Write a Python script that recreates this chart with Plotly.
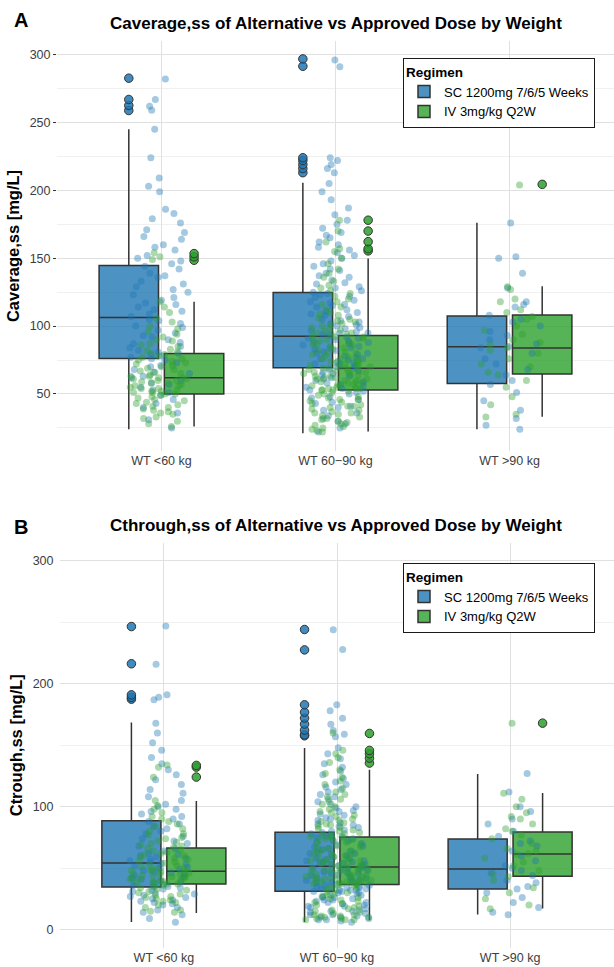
import plotly.graph_objects as go

categories = ["WT <60 kg", "WT 60\u221290 kg", "WT >90 kg"]
regimens = ["SC 1200mg 7/6/5 Weeks", "IV 3mg/kg Q2W"]

# ---------- Panel A: Caverage,ss  (box statistics) ----------
cavg_sc_q1 = [76.2, 69.4, 57.8]
cavg_sc_med = [106.4, 92.6, 84.8]
cavg_sc_q3 = [144.6, 124.8, 107.4]
cavg_sc_lo = [24, 21, 24]
cavg_sc_hi = [245, 205.6, 176.2]
cavg_sc_out = [[282.6, 266.9, 262.5, 258.8], [296.8, 291.4, 224, 222, 219, 216, 213], []]

cavg_iv_q1 = [50, 52.9, 64.7]
cavg_iv_med = [62, 68.9, 83.8]
cavg_iv_q3 = [79.9, 93.1, 108.1]
cavg_iv_lo = [26, 22.3, 33.3]
cavg_iv_hi = [117.9, 149.8, 129.4]
cavg_iv_out = [[153.4, 151, 148.5], [178, 170, 162.2, 157, 155.4], [204.4]]

cavg_sc_lt60 = [282, 267, 262, 259, 245, 224, 209, 203, 199, 186, 183, 179, 176, 171, 169, 166, 164, 160, 158, 156,
                152, 150, 148, 146, 144, 142, 139, 137, 136, 133, 131, 129, 127, 125, 123, 121, 119, 117, 116, 114,
                112, 111, 109, 107, 105, 104, 102, 100, 99, 97, 95, 93, 92, 90, 88, 87, 85, 84, 82, 81, 80, 79, 78,
                77, 76, 75, 73, 71, 70, 68, 66, 65, 63, 62, 60, 58, 57, 55, 53, 51, 49, 46, 43, 40, 36, 31, 25]
cavg_sc_60_90 = [296, 291, 224, 222, 219, 216, 213, 205, 199, 193, 187, 182, 178, 175, 172, 169, 167, 165, 162, 160,
                 158, 156, 154, 152, 150, 148, 146, 144, 142, 141, 139, 137, 136, 134, 132, 131, 129, 128, 126, 125,
                 124, 123, 122, 121, 119, 118, 117, 116, 115, 114, 112, 111, 110, 109, 108, 107, 105, 104, 103, 102,
                 101, 100, 99, 98, 97, 96, 95, 95, 94, 93, 92, 91, 91, 90, 89, 88, 88, 87, 86, 85, 84, 84, 83, 82,
                 81, 80, 80, 79, 78, 77, 76, 76, 75, 74, 73, 72, 72, 71, 70, 69, 68, 67, 66, 65, 64, 63, 62, 61, 60,
                 59, 58, 57, 56, 55, 54, 53, 52, 51, 50, 48, 47, 46, 44, 43, 41, 40, 38, 36, 34, 32, 30, 28, 25, 22]
cavg_sc_gt90 = [176, 151, 150, 139, 128, 118, 116, 114, 108, 105, 103, 100, 96, 93, 90, 87, 85, 84, 80, 76, 72, 68,
                64, 60, 57, 51, 45, 38, 32, 27, 24]
cavg_iv_lt60 = [154, 151, 149, 118, 114, 110, 106, 103, 100, 98, 96, 94, 92, 90, 89, 87, 86, 85, 83, 82, 81, 80, 79,
                78, 77, 76, 75, 74, 73, 72, 71, 70, 69, 68, 67, 66, 65, 64, 63, 63, 62, 62, 61, 61, 60, 60, 59, 58,
                58, 57, 56, 56, 55, 54, 54, 53, 52, 52, 51, 51, 50, 50, 49, 48, 47, 46, 45, 44, 43, 42, 41, 40, 39,
                38, 37, 36, 35, 33, 32, 30, 28, 26]
cavg_iv_60_90 = [178, 170, 162, 157, 155, 150, 146, 142, 139, 136, 133, 130, 128, 126, 124, 122, 120, 118, 116, 114,
                 112, 110, 109, 108, 106, 105, 104, 103, 102, 101, 100, 99, 98, 97, 96, 95, 95, 94, 94, 93, 92, 92,
                 91, 90, 90, 89, 88, 87, 86, 86, 85, 84, 83, 82, 81, 80, 80, 79, 78, 77, 76, 76, 75, 74, 74, 73, 72,
                 72, 71, 71, 70, 70, 69, 69, 69, 68, 68, 67, 67, 66, 66, 65, 65, 64, 64, 63, 63, 62, 62, 61, 61, 60,
                 60, 59, 59, 58, 58, 57, 57, 56, 56, 55, 55, 54, 54, 54, 53, 53, 53, 52, 51, 50, 49, 48, 47, 46, 46,
                 45, 44, 43, 42, 41, 41, 40, 39, 38, 37, 36, 36, 35, 34, 33, 32, 31, 30, 29, 28, 27, 26, 25, 24, 23, 22]
cavg_iv_gt90 = [204, 129, 127, 120, 118, 112, 110, 107, 105, 100, 97, 94, 90, 88, 86, 84, 82, 80, 76, 72, 70, 66, 64,
                60, 55, 48, 42, 35, 33]

# ---------- Panel B: Ctrough,ss ----------
ctr_sc_q1 = [34.7, 31.2, 33.1]
ctr_sc_med = [54.2, 51.5, 49.3]
ctr_sc_q3 = [88.6, 79.1, 73.7]
ctr_sc_lo = [6.2, 6.2, 12.2]
ctr_sc_hi = [168.5, 147.7, 126.6]
ctr_sc_out = [[246.6, 216.3, 191, 189, 187.5], [244.2, 227.6, 182.9, 176.9, 172.1, 167.2, 162.3, 158.5, 157.7], []]

ctr_iv_q1 = [37.1, 36.6, 43.4]
ctr_iv_med = [47.4, 50.9, 61.5]
ctr_iv_q3 = [66.4, 75.3, 79.4]
ctr_iv_lo = [13.5, 7.6, 17.1]
ctr_iv_hi = [104.6, 130, 111.1]
ctr_iv_out = [[133.6, 132.2, 124.1], [159.6, 145.8, 143, 139.5, 135.5], [168]]

ctr_sc_lt60 = [247, 216, 191, 189, 187, 168, 160, 152, 146, 140, 135, 130, 126, 122, 118, 114, 111, 108, 105, 102,
               100, 98, 96, 94, 92, 90, 88, 86, 84, 82, 80, 78, 76, 74, 72, 70, 68, 66, 64, 62, 61, 60, 59, 58, 57,
               56, 55, 54, 53, 52, 51, 50, 49, 48, 47, 46, 45, 44, 43, 42, 41, 40, 39, 38, 37, 36, 35, 35, 34, 33,
               32, 31, 30, 29, 28, 27, 26, 25, 24, 23, 22, 21, 20, 18, 16, 14, 12, 9, 6]
ctr_sc_60_90 = [244, 228, 183, 178, 172, 167, 162, 159, 157, 148, 143, 139, 135, 132, 129, 126, 123, 120, 118, 116,
                114, 112, 110, 108, 106, 104, 102, 100, 99, 97, 96, 94, 93, 91, 90, 89, 87, 86, 85, 84, 83, 81, 80,
                79, 78, 77, 76, 76, 75, 74, 73, 72, 71, 70, 69, 68, 67, 66, 65, 64, 63, 62, 62, 61, 60, 59, 58, 58,
                57, 56, 56, 55, 55, 54, 54, 53, 53, 52, 52, 51, 50, 50, 49, 48, 48, 47, 46, 46, 45, 44, 44, 43, 42,
                42, 41, 40, 40, 39, 38, 38, 37, 36, 36, 35, 35, 34, 34, 33, 33, 32, 32, 32, 31, 31, 30, 30, 29, 28,
                28, 27, 26, 26, 25, 24, 24, 23, 22, 22, 21, 20, 19, 19, 18, 17, 16, 15, 15, 14, 13, 12, 12, 11, 10,
                10, 9, 8, 8, 7, 6]
ctr_sc_gt90 = [127, 112, 100, 96, 90, 86, 80, 76, 72, 70, 68, 64, 60, 56, 52, 50, 48, 46, 44, 40, 38, 35, 33, 30, 26,
               22, 18, 14, 12]
ctr_iv_lt60 = [134, 132, 124, 105, 101, 98, 95, 92, 90, 88, 86, 84, 82, 80, 78, 77, 75, 74, 72, 71, 70, 69, 68, 67,
               66, 65, 64, 63, 62, 61, 60, 59, 58, 57, 56, 55, 54, 53, 52, 51, 50, 50, 49, 48, 48, 47, 47, 46, 46,
               45, 45, 44, 44, 43, 43, 42, 42, 41, 41, 40, 40, 39, 39, 38, 38, 37, 37, 36, 35, 34, 33, 32, 31, 30,
               29, 28, 27, 26, 25, 24, 23, 22, 20, 18, 16, 15, 14]
ctr_iv_60_90 = [160, 146, 143, 140, 136, 130, 127, 124, 121, 118, 115, 112, 110, 108, 106, 104, 102, 100, 98, 96, 95,
                93, 92, 90, 89, 88, 87, 86, 85, 84, 83, 82, 81, 80, 79, 78, 77, 77, 76, 76, 75, 74, 73, 73, 72, 71,
                70, 69, 68, 67, 66, 66, 65, 64, 63, 62, 62, 61, 60, 59, 58, 58, 57, 56, 56, 55, 55, 54, 54, 53, 53,
                52, 52, 51, 51, 50, 50, 49, 49, 48, 48, 47, 47, 46, 46, 45, 45, 44, 44, 43, 43, 42, 42, 42, 41, 41,
                40, 40, 40, 39, 39, 39, 38, 38, 38, 37, 37, 37, 37, 36, 36, 35, 34, 33, 32, 31, 30, 29, 28, 27, 26,
                25, 24, 23, 22, 21, 20, 19, 18, 17, 16, 15, 14, 13, 12, 12, 11, 11, 10, 10, 9, 9, 8, 8, 8]
ctr_iv_gt90 = [168, 111, 106, 100, 95, 92, 90, 86, 82, 80, 77, 74, 70, 66, 64, 62, 61, 58, 55, 52, 48, 45, 43, 40, 34,
               30, 25, 20, 17]

# ---------- styling ----------
FONT = "Liberation Sans, Arial, sans-serif"
fill_cols = ["rgba(31,119,180,0.8)", "rgba(44,160,44,0.8)"]
pt_cols = ["rgba(31,119,180,0.4)", "rgba(44,160,44,0.4)"]
out_cols = ["rgba(31,119,180,0.85)", "rgba(44,160,44,0.85)"]
EDGE = "#333333"


def flat(groups):
    xs, ys = [], []
    for cat, vals in zip(categories, groups):
        xs += [cat] * len(vals)
        ys += vals
    return xs, ys


fig = go.Figure()

panels = [
    dict(xa="x", ya="y", legend="legend", ag="A",
         stats=[(cavg_sc_q1, cavg_sc_med, cavg_sc_q3, cavg_sc_lo, cavg_sc_hi, cavg_sc_out),
                (cavg_iv_q1, cavg_iv_med, cavg_iv_q3, cavg_iv_lo, cavg_iv_hi, cavg_iv_out)],
         pts=[[cavg_sc_lt60, cavg_sc_60_90, cavg_sc_gt90], [cavg_iv_lt60, cavg_iv_60_90, cavg_iv_gt90]]),
    dict(xa="x2", ya="y2", legend="legend2", ag="B",
         stats=[(ctr_sc_q1, ctr_sc_med, ctr_sc_q3, ctr_sc_lo, ctr_sc_hi, ctr_sc_out),
                (ctr_iv_q1, ctr_iv_med, ctr_iv_q3, ctr_iv_lo, ctr_iv_hi, ctr_iv_out)],
         pts=[[ctr_sc_lt60, ctr_sc_60_90, ctr_sc_gt90], [ctr_iv_lt60, ctr_iv_60_90, ctr_iv_gt90]]),
]

for p in panels:
    for k, (q1, med, q3, lo, hi, out) in enumerate(p["stats"]):
        fig.add_trace(go.Box(
            x=categories, q1=q1, median=med, q3=q3, lowerfence=lo, upperfence=hi, y=out,
            name=regimens[k], legend=p["legend"], xaxis=p["xa"], yaxis=p["ya"],
            alignmentgroup=p["ag"], offsetgroup=str(k),
            fillcolor=fill_cols[k], line=dict(color=EDGE, width=1.5), whiskerwidth=0,
            boxpoints="outliers", jitter=0, pointpos=0,
            marker=dict(color=out_cols[k], size=8.5, line=dict(color=EDGE, width=1)),
            hoverinfo="skip",
        ))
    for k, groups in enumerate(p["pts"]):
        xs, ys = flat(groups)
        fig.add_trace(go.Box(
            x=xs, y=ys, width=0.42, boxpoints="all", jitter=1, pointpos=0,
            fillcolor="rgba(0,0,0,0)", line=dict(color="rgba(0,0,0,0)", width=0),
            marker=dict(color=pt_cols[k], size=7, line=dict(width=0)),
            showlegend=False, xaxis=p["xa"], yaxis=p["ya"], hoverinfo="skip",
        ))

TOP, BOT, H = 41, 19, 967
plot_h = H - TOP - BOT


def py(pix):
    return (H - BOT - pix) / plot_h


axis_common = dict(showline=False, zeroline=False, showgrid=True, gridcolor="#e0e0e0", gridwidth=1,
                   tickfont=dict(family=FONT, size=12.5, color="#3d3d3d"))

fig.update_layout(
    width=614, height=967,
    margin=dict(l=57, r=0, t=TOP, b=BOT),
    paper_bgcolor="white", plot_bgcolor="white",
    boxmode="group", boxgap=0.25, boxgroupgap=0.09,
    font=dict(family=FONT, color="black"),
    xaxis=dict(domain=[0, 1], anchor="y", type="category", categoryorder="array", categoryarray=categories,
               range=[-0.6, 2.6], ticks="", **axis_common),
    yaxis=dict(domain=[py(451), 1], anchor="x", range=[8, 310], dtick=50, tick0=0,
               ticks="outside", ticklen=3, tickcolor="#333333", tickwidth=1,
               minor=dict(dtick=25, tick0=0, showgrid=True, gridcolor="#f0f0f0", gridwidth=1),
               title=dict(text="<b>Caverage,ss [mg/L]</b>", font=dict(family=FONT, size=16.5, color="black"),
                          standoff=5),
               **axis_common),
    xaxis2=dict(domain=[3 / 557, 1], anchor="y2", type="category", categoryorder="array", categoryarray=categories,
                range=[-0.6, 2.6], ticks="", **axis_common),
    yaxis2=dict(domain=[0, py(542.5)], anchor="x2", range=[-15, 315], dtick=100, tick0=0,
                ticks="outside", ticklen=3, tickcolor="rgba(0,0,0,0)",
                minor=dict(dtick=50, tick0=0, showgrid=True, gridcolor="#f0f0f0", gridwidth=1),
                title=dict(text="<b>Ctrough,ss [mg/L]</b>", font=dict(family=FONT, size=16.5, color="black"),
                           standoff=5),
                **axis_common),
    legend=dict(x=(403 - 57) / 557, xanchor="left", y=py(58), yanchor="top",
                bgcolor="white", bordercolor="#1a1a1a", borderwidth=1,
                font=dict(family=FONT, size=13, color="black"),
                title=dict(text="<b>Regimen</b>", font=dict(family=FONT, size=13.5, color="black"))),
    legend2=dict(x=(403 - 57) / 557, xanchor="left", y=py(563), yanchor="top",
                 bgcolor="white", bordercolor="#1a1a1a", borderwidth=1,
                 font=dict(family=FONT, size=13, color="black"),
                 title=dict(text="<b>Regimen</b>", font=dict(family=FONT, size=13.5, color="black"))),
    annotations=[
        dict(text="<b>Caverage,ss of Alternative vs Approved Dose by Weight</b>", xref="paper", yref="paper",
             x=0.5, y=py(24), xanchor="center", yanchor="middle", showarrow=False,
             font=dict(family=FONT, size=17, color="black")),
        dict(text="<b>Cthrough,ss of Alternative vs Approved Dose by Weight</b>", xref="paper", yref="paper",
             x=0.5, y=py(525), xanchor="center", yanchor="middle", showarrow=False,
             font=dict(family=FONT, size=17, color="black")),
        dict(text="<b>A</b>", xref="paper", yref="paper", x=-36 / 557, y=py(20), xanchor="center",
             yanchor="middle", showarrow=False, font=dict(family=FONT, size=20, color="black")),
        dict(text="<b>B</b>", xref="paper", yref="paper", x=-36 / 557, y=py(527), xanchor="center",
             yanchor="middle", showarrow=False, font=dict(family=FONT, size=20, color="black")),
    ],
)

fig.write_html("out.html", config={"displayModeBar": False},
               post_script="document.body.style.margin='0';")
